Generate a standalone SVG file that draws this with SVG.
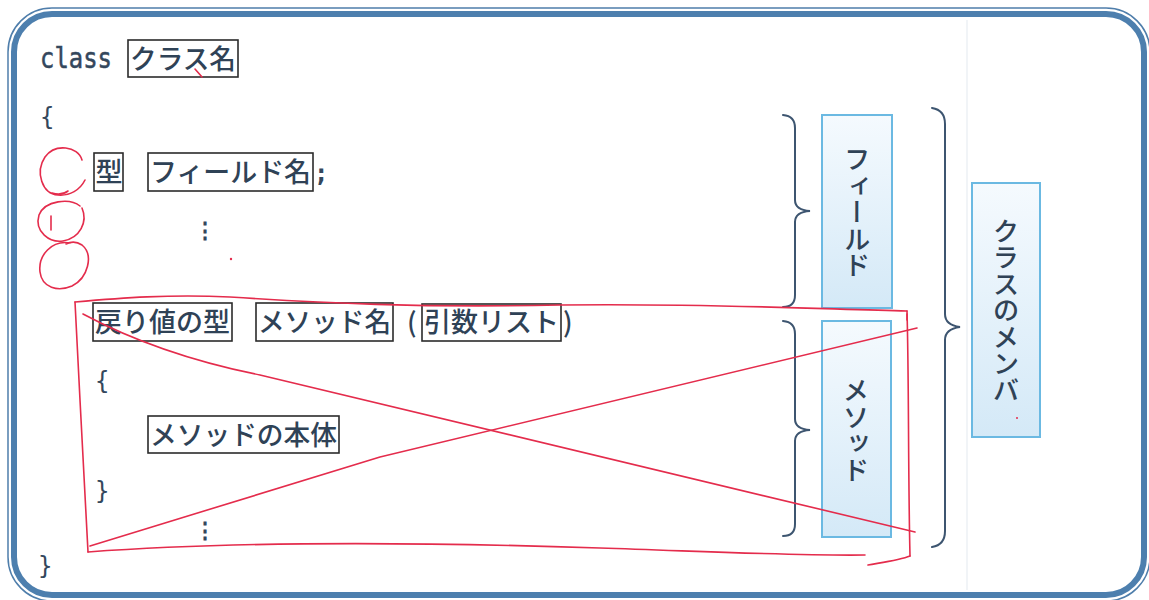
<svg xmlns="http://www.w3.org/2000/svg" width="1149" height="600" viewBox="0 0 1149 600">
<defs>
<linearGradient id="bluefill" x1="0" y1="0" x2="0" y2="1">
<stop offset="0" stop-color="#f5fafe"/>
<stop offset="1" stop-color="#d4e9f7"/>
</linearGradient>
<style>
.mono{font-family:"DejaVu Sans Mono","Liberation Mono",monospace;fill:#34475c;}
.jp{font-family:"Noto Sans CJK JP","Noto Sans",sans-serif;font-size:27px;font-weight:500;fill:#2f4256;}
.box{fill:none;stroke:#2b2b2b;stroke-width:1.6;}
.brace{fill:none;stroke:#3d5570;stroke-width:2;stroke-linecap:round;}
.bluebox{fill:url(#bluefill);stroke:#6bb9e2;stroke-width:2;}
.vt{font-family:"Noto Sans CJK JP","Noto Sans",sans-serif;font-size:26.5px;font-weight:500;fill:#2f4256;writing-mode:vertical-rl;text-anchor:middle;}
.red{fill:none;stroke:#e42c4c;stroke-width:1.6;stroke-linecap:round;stroke-linejoin:round;}
</style>
</defs>
<rect width="1149" height="600" fill="#ffffff"/>
<line x1="967" y1="20" x2="967" y2="590" stroke="#f1f4f7" stroke-width="2"/>
<g id="frame">
<rect x="8" y="8" width="1142" height="593" rx="44" fill="none" stroke="#4f7eab" stroke-width="1.5"/>
<rect x="14" y="14" width="1130" height="581" rx="38" fill="none" stroke="#4d7fae" stroke-width="6"/>
</g>
<g id="code">
<text class="mono" x="40" y="68" font-size="28" textLength="72" lengthAdjust="spacingAndGlyphs" stroke="#34475c" stroke-width="0.5">class</text>
<g id="class-name"><rect class="box" x="128" y="40" width="110" height="37"/><text class="jp" x="130" y="69" textLength="106" lengthAdjust="spacingAndGlyphs">クラス名</text></g>
<text class="mono" x="40" y="125" font-size="24">{</text>
<g id="type"><rect class="box" x="94" y="153" width="29" height="38"/><text class="jp" x="95.5" y="182">型</text></g>
<g id="field-name"><rect class="box" x="148" y="153" width="165" height="38"/><text class="jp" x="150" y="182" textLength="161" lengthAdjust="spacingAndGlyphs">フィールド名</text></g>
<text class="mono" x="314" y="182" font-size="24" font-weight="bold">;</text>
<text class="mono" x="205" y="238" font-size="22" font-weight="bold" text-anchor="middle">⋮</text>
<g id="return-type"><rect class="box" x="93" y="303" width="139" height="38"/><text class="jp" x="95" y="332" textLength="135" lengthAdjust="spacingAndGlyphs">戻り値の型</text></g>
<g id="method-name"><rect class="box" x="256" y="303" width="137" height="38"/><text class="jp" x="258" y="332" textLength="133" lengthAdjust="spacingAndGlyphs">メソッド名</text></g>
<text class="jp" x="407" y="332">(</text>
<g id="args"><rect class="box" x="422" y="304" width="139" height="37"/><text class="jp" x="424" y="332" textLength="135" lengthAdjust="spacingAndGlyphs">引数リスト</text></g>
<text class="jp" x="563" y="332">)</text>
<text class="mono" x="95" y="389" font-size="24">{</text>
<g id="method-body"><rect class="box" x="148" y="416" width="191" height="37"/><text class="jp" x="150" y="445" textLength="187" lengthAdjust="spacingAndGlyphs">メソッドの本体</text></g>
<text class="mono" x="95" y="499" font-size="24">}</text>
<text class="mono" x="205" y="538" font-size="22" font-weight="bold" text-anchor="middle">⋮</text>
<text class="mono" x="38" y="574" font-size="24">}</text>
</g>
<g id="connectors">
<path class="brace" d="M783,115 Q795,116 795,128 L795,200 Q795,210 810,211 Q795,212 795,222 L795,295 Q795,307 783,307"/>
<path class="brace" d="M783,321 Q795,322 795,334 L795,419 Q795,429 810,430 Q795,431 795,441 L795,524 Q795,536 783,536"/>
<path class="brace" d="M932,108 Q945,110 945,124 L945,314 Q945,325 960,327 Q945,329 945,340 L945,531 Q945,545 932,547"/>
</g>
<g id="field">
<rect class="bluebox" x="822" y="115" width="70" height="193"/>
<text class="vt" x="857" y="212">フィールド</text>
</g>
<g id="method">
<rect class="bluebox" x="822" y="321" width="69" height="216"/>
<text class="vt" x="856" y="430">メソッド</text>
</g>
<g id="class-members">
<rect class="bluebox" x="972" y="183" width="68" height="254"/>
<text class="vt" x="1006" y="310">クラスのメンバ</text>
</g>
<g id="red-marks">
<path class="red" stroke-width="2" d="M82,160 C78,146 55,143 45,157 C35,172 42,194 58,195 C70,196 80,190 85,180"/>
<path class="red" stroke-width="3.5" d="M52,193 C58,195 64,194 68,191"/>
<path class="red" stroke-width="2" d="M80,206 C70,198 45,200 39,215 C34,232 50,243 63,241 C80,238 88,222 82,208"/>
<path class="red" stroke-width="2" d="M51,216 L51,230"/>
<path class="red" stroke-width="2" d="M70,243 C52,240 38,255 40,272 C42,288 58,292 72,286 C88,278 94,255 82,245 C76,241 70,242 66,244"/>
<path class="red" stroke-width="2.5" d="M195,69 L202,77"/>
<circle cx="231" cy="259" r="1.2" fill="#e42c4c"/>
<circle cx="1017" cy="418" r="1" fill="#e42c4c"/>
<path class="red" d="M75,302 C120,298 170,294 230,297 C320,303 420,308 560,305 C700,303 820,309 907,311"/>
<path class="red" d="M75,302 L80,400 L88,552"/>
<path class="red" d="M88,552 C250,540 450,543 600,548 C720,552 800,556 865,555"/>
<path class="red" d="M868,565 C885,562 900,560 910,556"/>
<path class="red" d="M907,311 C909,380 908,470 910,556"/>
<path class="red" stroke-width="3" d="M907,314 L907,320"/>
<path class="red" d="M83,314 Q160,355 260,375 L915,532"/>
<path class="red" d="M90,546 Q240,500 380,457 L917,328"/>
</g>
</svg>
